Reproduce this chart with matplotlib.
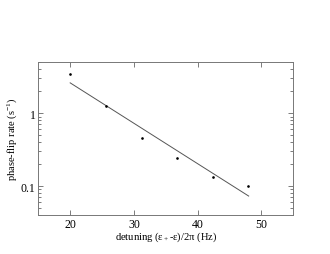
import matplotlib
matplotlib.use("Agg")
import matplotlib.pyplot as plt
from matplotlib.ticker import FixedLocator, LogLocator, NullFormatter, FixedFormatter

# measured phase-flip rates
detuning = [20.0, 25.6, 31.2, 36.8, 42.4, 47.9]
rate = [3.44, 1.25, 0.457, 0.245, 0.132, 0.100]

# exponential fit (end points)
fit_x = [20.0, 48.0]
fit_y = [2.61, 0.0728]

plt.rcParams['font.family'] = ['Liberation Serif', 'DejaVu Serif']
plt.rcParams['mathtext.fontset'] = 'custom'
plt.rcParams['mathtext.rm'] = 'Liberation Serif'
plt.rcParams['mathtext.it'] = 'Liberation Serif'

fig = plt.figure(figsize=(3.3, 2.55), dpi=100)
ax = fig.add_axes([38.3 / 330, 1 - 216 / 255, 255 / 330, 152.7 / 255])

ax.plot(fit_x, fit_y, color='#555555', lw=0.7)
ax.plot(detuning, rate, 'o', color='black', ms=0.9)

ax.set_yscale('log')
ax.set_xlim(15, 55)
ax.set_ylim(0.04, 5)

ax.xaxis.set_major_locator(FixedLocator([20, 30, 40, 50]))
ax.yaxis.set_major_locator(FixedLocator([0.1, 1]))
ax.yaxis.set_major_formatter(FixedFormatter(['0.1', '1']))
ax.yaxis.set_minor_locator(LogLocator(base=10, subs=range(2, 10)))
ax.yaxis.set_minor_formatter(NullFormatter())

ax.tick_params(which='both', direction='in', top=True, right=True,
               labelsize=8.5, color='#666666', width=0.6, pad=2)
ax.tick_params(which='major', length=3.5)
ax.tick_params(which='minor', length=2)
for s in ax.spines.values():
    s.set_color('#777777')
    s.set_linewidth(0.7)

ax.set_xlabel('detuning (ε$_+$-ε)/2π (Hz)', fontsize=7.6, labelpad=0)
ax.set_ylabel('phase-flip rate (s$^{-1}$)', fontsize=7.6, labelpad=1)

fig.savefig('out.png', dpi=100)
